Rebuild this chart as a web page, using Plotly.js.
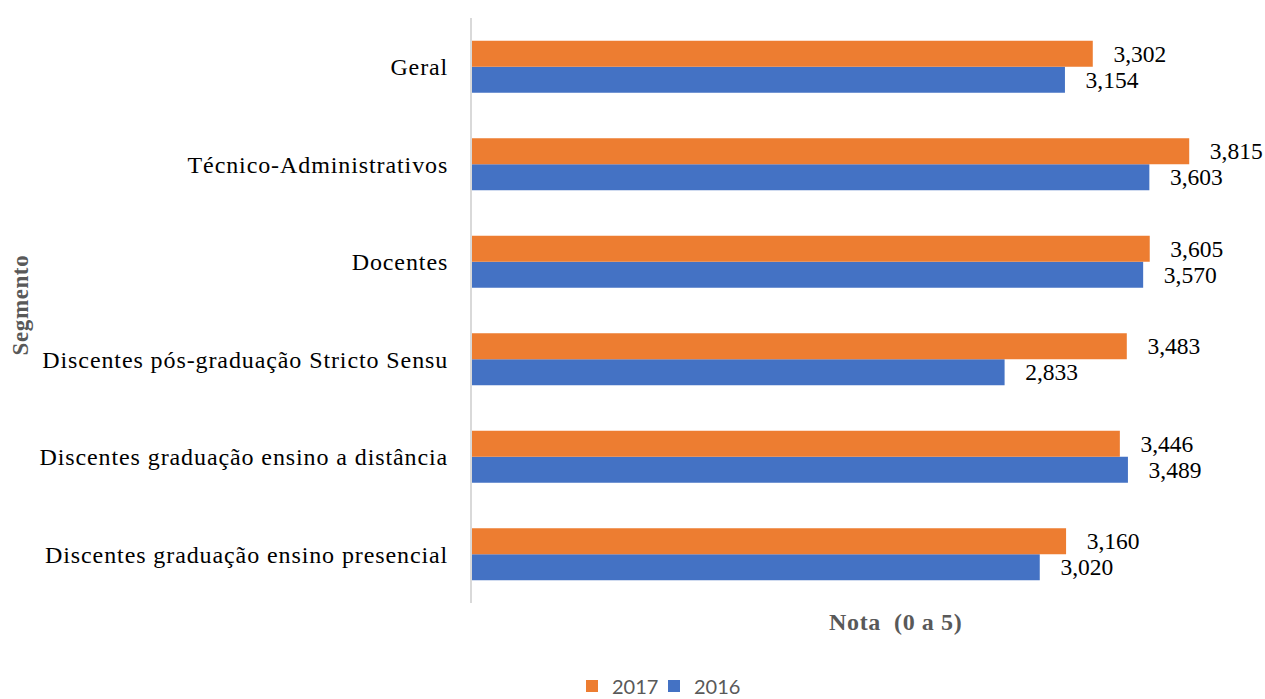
<!DOCTYPE html>
<html><head><meta charset="utf-8">
<script src="https://cdn.plot.ly/plotly-3.0.1.min.js"></script>
<style>
html,body{margin:0;padding:0;background:#fff}#chart{width:1265px;height:699px}
#chart .ytick text{letter-spacing:0.9px}
#chart .annotation-text{letter-spacing:0.6px}
#chart .legend .scrollbox{clip-path:none !important}
</style>
</head><body><div id="chart"></div>
<script>
const categories = [
  "Discentes graduação ensino presencial",
  "Discentes graduação ensino a distância",
  "Discentes pós-graduação Stricto Sensu",
  "Docentes",
  "Técnico-Administrativos",
  "Geral"
];
const values2016 = [3.020, 3.489, 2.833, 3.570, 3.603, 3.154];
const values2017 = [3.160, 3.446, 3.483, 3.605, 3.815, 3.302];

const serif = 'Liberation Serif, Times New Roman, serif';
const pad = '\u00a0\u00a0\u00a0';
const common = {
  type: 'bar', orientation: 'h', y: categories,
  textposition: 'outside', constraintext: 'none', cliponaxis: false,
  texttemplate: pad + '%{x:.3f}',
  textfont: {family: serif, size: 23.5, color: '#000'},
  hoverinfo: 'x+y'
};
const data = [
  Object.assign({}, common, {name: '2016', x: values2016, marker: {color: '#4472C4'}}),
  Object.assign({}, common, {name: '2017', x: values2017, marker: {color: '#ED7D31'}})
];
const L = 472, R = 41, T = 18, B = 96, W = 1265, H = 699;
const pw = W - L - R, ph = H - T - B;
const layout = {
  width: W, height: H,
  margin: {l: L, r: R, t: T, b: B},
  paper_bgcolor: '#fff', plot_bgcolor: '#fff',
  separators: ',.',
  barmode: 'group', bargap: 0.466, bargroupgap: 0,
  xaxis: {range: [0, 4], showticklabels: false, showgrid: false, zeroline: false, showline: false, fixedrange: true},
  yaxis: {
    showline: true, linecolor: '#d9d9d9', linewidth: 2, ticks: '', showgrid: false,
    ticklabelstandoff: 17,
    tickfont: {family: serif, size: 24, color: '#000'}
  },
  showlegend: true,
  legend: {orientation: 'h', xref: 'container', x: 572 / W, xanchor: 'left',
    yref: 'container', y: (H - 686) / H, yanchor: 'middle',
    traceorder: 'reversed', entrywidth: 37,
    font: {family: 'Lato, Noto Sans, sans-serif', size: 20, color: '#595959'}},
  annotations: [{
    text: '<b>Nota\u00a0\u00a0(0 a 5)</b>', xref: 'paper', yref: 'paper',
    x: (895 - L) / pw, y: (T + ph - 622) / ph,
    xanchor: 'center', yanchor: 'middle', showarrow: false,
    font: {family: serif, size: 24, color: '#595959'}
  }, {
    text: '<b>Segmento</b>', xref: 'paper', yref: 'paper', textangle: -90,
    x: (20 - L) / pw, y: (T + ph - 305) / ph,
    xanchor: 'center', yanchor: 'middle', showarrow: false,
    font: {family: serif, size: 23, color: '#595959'}
  }]
};
Plotly.newPlot('chart', data, layout, {displayModeBar: false, staticPlot: true});
</script></body></html>
